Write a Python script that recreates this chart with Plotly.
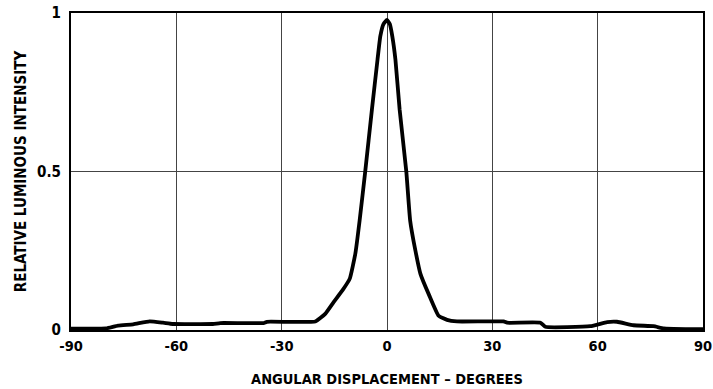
import plotly.graph_objects as go

angle_deg = [-90, -85, -80, -76.6, -72.3, -67.6, -63.8, -61, -49.6, -47.5, -35.2, -34.2,
             -20.4, -17.6, -15.2, -12.5, -10.6, -9.0, -7.8, -6.2, -4.3, -2.7, -1.9,
             -1.0, 0, 0.8, 1.5, 2.4, 3.6, 5.5, 6.6, 8.1, 9.5, 12.0, 14.7, 17.1, 19.9,
             33.2, 34.2, 43.7, 45.1, 57.9, 62.7, 65.5, 70.2, 75.9, 78.8, 85, 90]
rel_intensity = [0.004, 0.004, 0.005, 0.014, 0.018, 0.027, 0.023, 0.019, 0.019, 0.022, 0.022, 0.026,
                 0.027, 0.051, 0.088, 0.128, 0.162, 0.242, 0.345, 0.50, 0.695, 0.853, 0.927,
                 0.965, 0.978, 0.965, 0.927, 0.853, 0.695, 0.50, 0.345, 0.25, 0.178, 0.11, 0.045, 0.032, 0.027,
                 0.027, 0.023, 0.023, 0.010, 0.012, 0.025, 0.026, 0.015, 0.012, 0.005, 0.003, 0.003]

x_ticks = [-90, -60, -30, 0, 30, 60, 90]
y_ticks = [0, 0.5, 1]
y_tick_labels = ["0", "0.5", "1"]

FONT = "DejaVu Sans Condensed, DejaVu Sans, sans-serif"

fig = go.Figure()
fig.add_trace(go.Scatter(
    x=angle_deg, y=rel_intensity, mode="lines",
    line=dict(color="black", width=3.8, shape="spline", smoothing=0.4),
    showlegend=False, hoverinfo="skip"))

fig.update_layout(
    width=713, height=389,
    margin=dict(l=71, r=10, t=13, b=59, autoexpand=False),
    plot_bgcolor="white", paper_bgcolor="white",
    font=dict(family=FONT, size=15, color="black"),
    xaxis=dict(
        range=[-90, 90], tickvals=x_ticks, ticktext=[str(v) for v in x_ticks],
        showgrid=True, gridcolor="#444444", gridwidth=1,
        showline=True, linecolor="black", linewidth=2, mirror=True,
        zeroline=False, ticks="", ticklen=0, automargin=False,
        ticklabelstandoff=2,
        tickfont=dict(family=FONT, size=14.5, color="black", weight="bold"),
        title=dict(text="ANGULAR DISPLACEMENT – DEGREES", standoff=20,
                   font=dict(family=FONT, size=14.5, color="black", weight="bold")),
    ),
    yaxis=dict(
        range=[0, 1], tickvals=y_ticks, ticktext=y_tick_labels,
        showgrid=True, gridcolor="#444444", gridwidth=1,
        showline=True, linecolor="black", linewidth=2, mirror=True,
        zeroline=False, ticks="", ticklen=0, automargin=False,
        ticklabelstandoff=5,
        tickfont=dict(family=FONT, size=15, color="black", weight="bold"),
        title=dict(text="RELATIVE LUMINOUS INTENSITY", standoff=7,
                   font=dict(family=FONT, size=15, color="black", weight="bold")),
    ),
)

fig.write_html("out.html")
